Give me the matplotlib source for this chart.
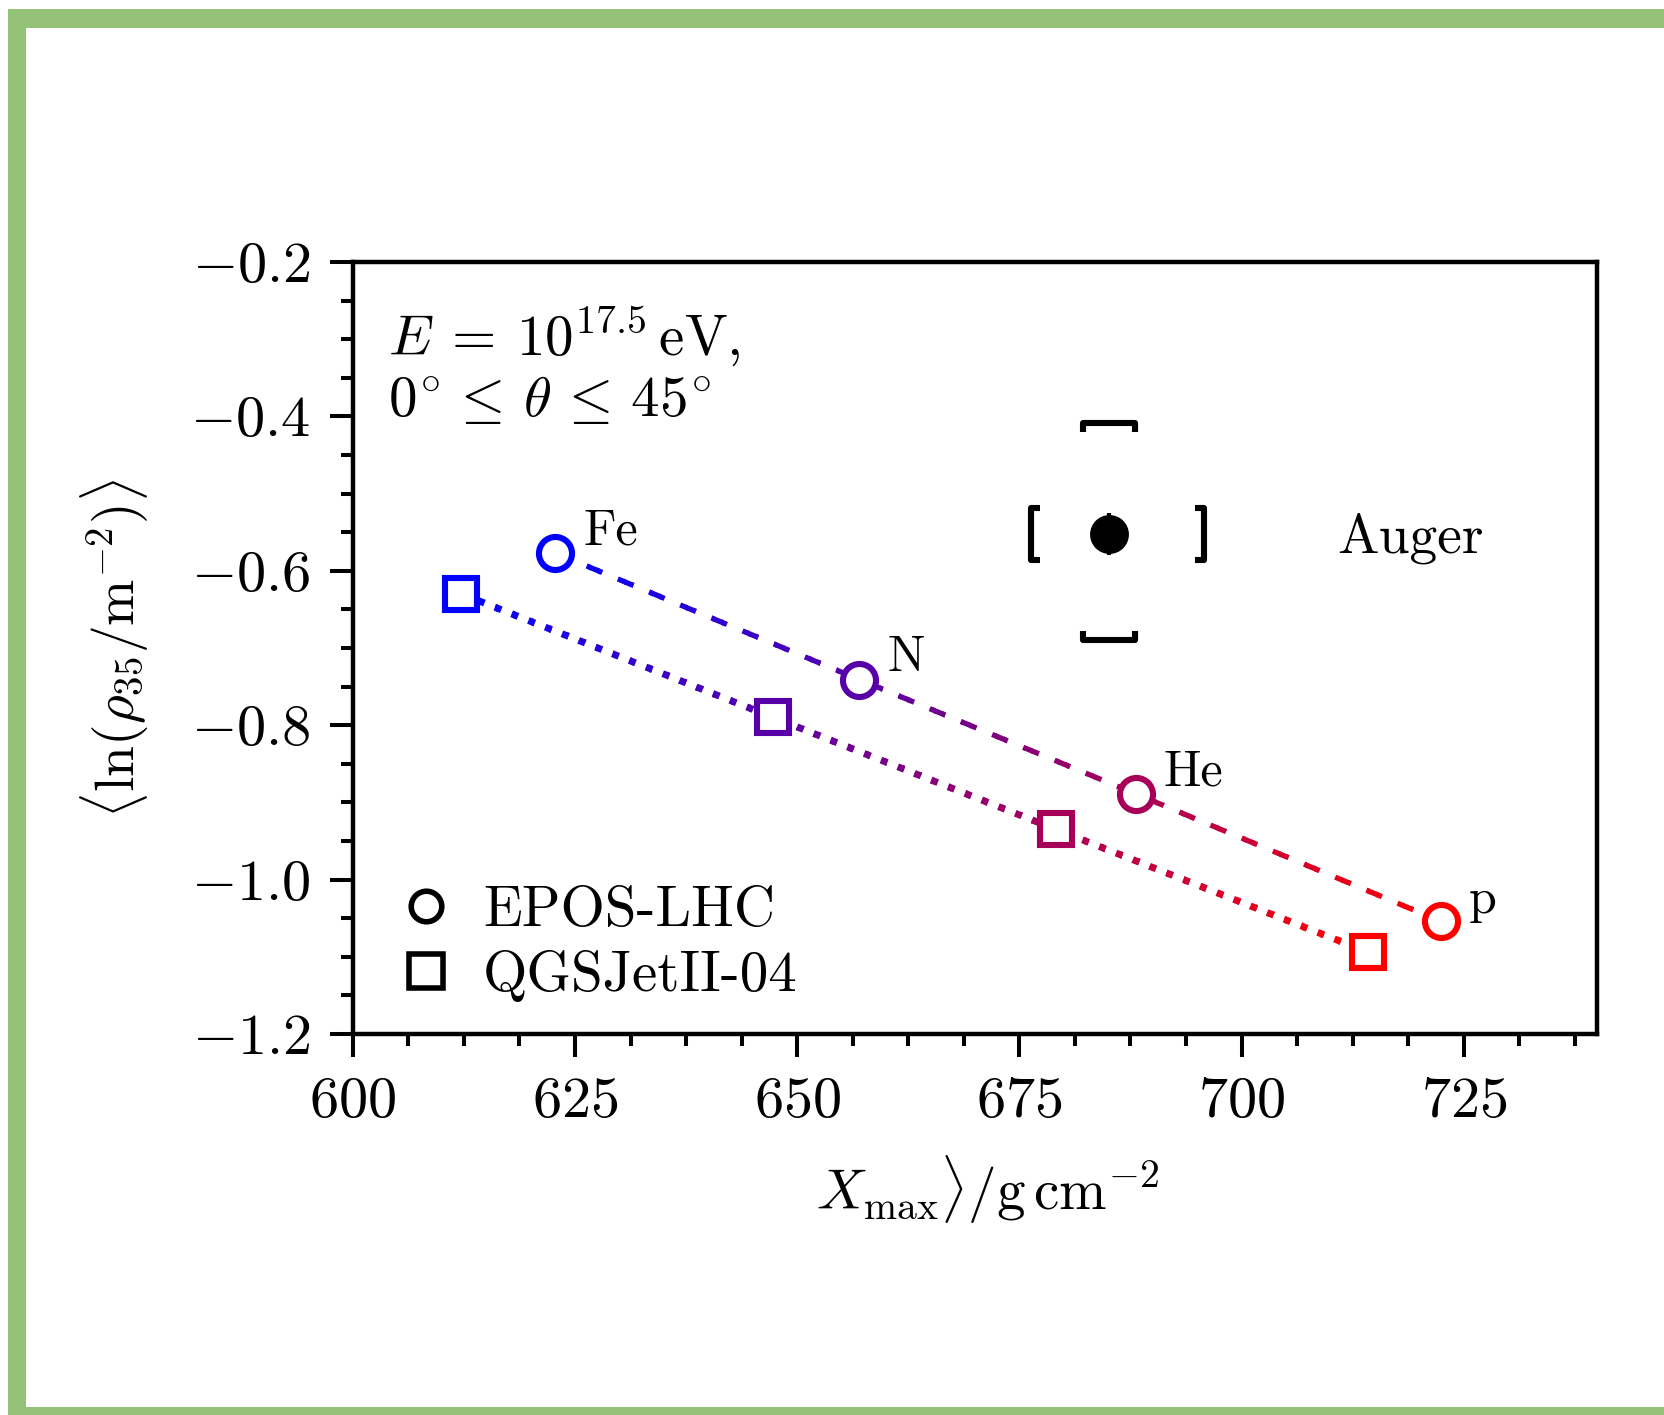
import numpy as np
import matplotlib
matplotlib.use("Agg")
import matplotlib.pyplot as plt
from matplotlib.path import Path
from matplotlib.patches import Rectangle
from matplotlib.lines import Line2D
from matplotlib.ticker import MultipleLocator, AutoMinorLocator

plt.rcParams['font.family'] = 'serif'
plt.rcParams['font.serif'] = ['cmr10']
plt.rcParams['mathtext.fontset'] = 'cm'
plt.rcParams['axes.formatter.use_mathtext'] = True
plt.rcParams['axes.unicode_minus'] = True

# primaries, heavy to light
elements = ['Fe', 'N', 'He', 'p']
mass_number = [56, 14, 4, 1]

# EPOS-LHC predictions
epos_xmax = [622.8, 657.0, 688.1, 722.4]
epos_rho = [-0.577, -0.741, -0.889, -1.054]

# QGSJetII-04 predictions
qgs_xmax = [612.2, 647.3, 679.1, 714.2]
qgs_rho = [-0.630, -0.790, -0.935, -1.094]

# Auger measurement: stat. error bar and sys. brackets
auger_xmax = 685.1
auger_rho = -0.552
auger_rho_stat = 0.027
auger_xmax_sys = [676.3, 695.8]
auger_rho_sys = [-0.690, -0.409]

frac = np.log(mass_number) / np.log(56)


def mass_color(f):
    # blue for iron, red for protons
    return (1 - f, 0, f)


def gradient_line(ax, xs, ys, fracs, ls, lw, nstrip=100):
    # draw the whole line once per x-strip so the dash pattern stays continuous
    xs = np.asarray(xs)
    edges = np.linspace(xs.min(), xs.max(), nstrip + 1)
    for i, (x0, x1) in enumerate(zip(edges[:-1], edges[1:])):
        f = np.interp(0.5 * (x0 + x1), xs, fracs)
        line, = ax.plot(xs, ys, color=mass_color(f), ls=ls, lw=lw,
                        dash_capstyle='butt', solid_capstyle='butt', zorder=2)
        left = x0 - (1 if i == 0 else 0.3)
        right = x1 + (1 if i == nstrip - 1 else 0)
        clip = Rectangle((left, -5), right - left, 10, transform=ax.transData)
        line.set_clip_path(clip)


def bracket(kind):
    s = 0.35
    verts = {'left': [(s, -1), (0, -1), (0, 1), (s, 1)],
             'right': [(-s, -1), (0, -1), (0, 1), (-s, 1)],
             'top': [(-1, -s), (-1, 0), (1, 0), (1, -s)],
             'bottom': [(-1, s), (-1, 0), (1, 0), (1, s)]}[kind]
    return Path(verts, [Path.MOVETO, Path.LINETO, Path.LINETO, Path.LINETO])


fig = plt.figure(figsize=(8.325, 7.075), dpi=200)

# green frame
green = '#93c276'
fig.add_artist(Rectangle((8 / 1665, 1 - 28 / 1415), 1, 19 / 1415,
                         transform=fig.transFigure, color=green, lw=0))
fig.add_artist(Rectangle((8 / 1665, 0), 18 / 1665, 1 - 9 / 1415,
                         transform=fig.transFigure, color=green, lw=0))
fig.add_artist(Rectangle((8 / 1665, 0), 1, 8 / 1415,
                         transform=fig.transFigure, color=green, lw=0))

ax = fig.add_axes([0.2119, 0.2693, 0.7473, 0.5456])

gradient_line(ax, epos_xmax, epos_rho, frac, (0, (3.2, 3.2)), 1.9)
gradient_line(ax, qgs_xmax, qgs_rho, frac, (0, (1.0, 1.6)), 2.5)

for i, el in enumerate(elements):
    c = mass_color(frac[i])
    ax.plot(epos_xmax[i], epos_rho[i], ls='none', marker='o', ms=11.9,
            mec=c, mfc='white', mew=2.2, zorder=3)
    ax.plot(qgs_xmax[i], qgs_rho[i], ls='none', marker='s', ms=11.8,
            mec=c, mfc='white', mew=2.2, zorder=3)
    ax.annotate(el, (epos_xmax[i], epos_rho[i]), xytext=(10, 3),
                textcoords='offset points', fontsize=18, va='baseline')

# Auger point
ax.errorbar(auger_xmax, auger_rho, yerr=auger_rho_stat, fmt='o', color='k',
            ms=14, mew=0, elinewidth=1.5, capsize=0, zorder=4)
bk = dict(ls='none', color='k', mfc='none', mew=2.2, ms=18.7, zorder=4)
ax.plot(auger_xmax_sys[0], auger_rho, marker=bracket('left'), **bk)
ax.plot(auger_xmax_sys[1], auger_rho, marker=bracket('right'), **bk)
ax.plot(auger_xmax, auger_rho_sys[1], marker=bracket('top'), **bk)
ax.plot(auger_xmax, auger_rho_sys[0], marker=bracket('bottom'), **bk)
ax.text(710.8, -0.577, 'Auger', fontsize=20, va='baseline', ha='left')

ax.text(0.028, 0.945,
        '$E \\:=\\: 10^{17.5}\\,\\mathrm{eV}$,\n'
        '$0^{\\!\\circ} \\leq\\, \\theta \\,\\leq\\, 45^{\\!\\circ}$',
        transform=ax.transAxes, fontsize=20.5, va='top', ha='left', linespacing=1.15)

handles = [Line2D([], [], ls='none', marker='o', mec='k', mfc='none', ms=11, mew=2.0),
           Line2D([], [], ls='none', marker='s', mec='k', mfc='none', ms=12, mew=2.0)]
ax.legend(handles, ['EPOS-LHC', 'QGSJetII-04'], loc='lower left',
          bbox_to_anchor=(0.036, 0.042), frameon=False, fontsize=20.5,
          handlelength=1.0, handletextpad=0.5, labelspacing=0.22,
          borderpad=0, borderaxespad=0)

ax.set_xlim(600, 740)
ax.set_ylim(-1.2, -0.2)
ax.xaxis.set_major_locator(MultipleLocator(25))
ax.xaxis.set_minor_locator(AutoMinorLocator(4))
ax.yaxis.set_major_locator(MultipleLocator(0.2))
ax.yaxis.set_minor_locator(AutoMinorLocator(4))
ax.tick_params(which='both', direction='out', top=False, right=False,
               width=1.45, labelsize=21, pad=7)
ax.tick_params(which='major', length=8.3)
ax.tick_params(which='minor', length=4.2)
for sp in ax.spines.values():
    sp.set_linewidth(1.6)

ax.set_xlabel(r'$X_\mathrm{max}\rangle / \mathrm{g\,cm^{-2}}$', fontsize=20.5,
              labelpad=9, x=0.51)
ax.set_ylabel(r'$\langle \ln(\rho_{35}/\mathrm{m}^{-2})\rangle$', fontsize=20,
              labelpad=14)

fig.savefig('out.png', dpi=200)
